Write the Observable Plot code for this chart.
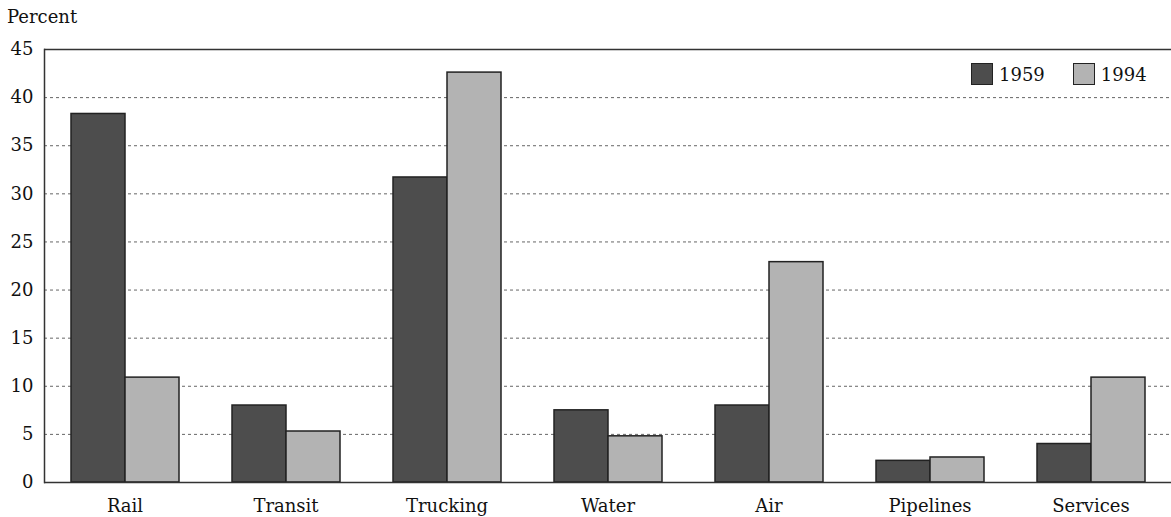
<!DOCTYPE html>
<html>
<head>
<meta charset="utf-8">
<script src="https://cdn.jsdelivr.net/npm/d3@7"></script>
<script src="https://cdn.jsdelivr.net/npm/@observablehq/plot@0.6"></script>
<style>
  body { margin: 0; background: #fff; }
  #wrap { position: relative; width: 1171px; height: 517px; font-family: "DejaVu Serif", serif; color: #111; }
  #ylabel { position: absolute; left: 7px; top: 6px; font-size: 18px; }
  #legend { position: absolute; left: 971px; top: 63px; display: flex; align-items: center; font-size: 18px; }
  .sw { width: 20px; height: 20px; border: 1.5px solid #222; margin-right: 6px; }
  .item { display: flex; align-items: center; margin-right: 28px; }
</style>
</head>
<body>
<div id="wrap">
  <div id="ylabel">Percent</div>
  <div id="legend"></div>
</div>
<script>
const categories = ["Rail", "Transit", "Trucking", "Water", "Air", "Pipelines", "Services"];
const years = ["1959", "1994"];
const values1959 = [38.3, 8.0, 31.7, 7.5, 8.0, 2.25, 4.0];
const values1994 = [10.9, 5.3, 42.6, 4.8, 22.9, 2.6, 10.9];
const yTicks = [0, 5, 10, 15, 20, 25, 30, 35, 40, 45];
const gridTicks = [5, 10, 15, 20, 25, 30, 35, 40];
const colors = ["#4d4d4d", "#b3b3b3"];

const data = [];
categories.forEach((c, i) => {
  data.push({category: c, year: years[0], value: values1959[i]});
  data.push({category: c, year: years[1], value: values1994[i]});
});

const chart = Plot.plot({
  width: 1171,
  height: 517,
  marginLeft: 44,
  marginRight: 0,
  marginTop: 49,
  marginBottom: 35,
  style: {fontFamily: "DejaVu Serif, serif", fontSize: "18px", color: "#111", background: "transparent", overflow: "visible"},
  fx: {domain: categories, padding: 0, label: null},
  x: {domain: years, paddingInner: 0, paddingOuter: 0.49, axis: null},
  y: {domain: [0, 45], label: null},
  color: {domain: years, range: colors},
  marks: [
    Plot.gridY(gridTicks, {stroke: "#666", strokeOpacity: 1, strokeDasharray: "3,3", strokeWidth: 1}),
    Plot.barY(data, {fx: "category", x: "year", y: "value", fill: "year", stroke: "#222", strokeWidth: 1.5}),
    Plot.ruleY([0], {stroke: "#333", strokeWidth: 1.5}),
    Plot.ruleY([45], {stroke: "#333", strokeWidth: 1.5}),
    Plot.frame({anchor: "left", facetAnchor: "left", stroke: "#333", strokeWidth: 1.5}),
    Plot.axisY(yTicks, {tickSize: 0, tickPadding: 11, label: null, fontSize: 18}),
    Plot.axisFx({anchor: "bottom", tickSize: 0, tickPadding: 17, label: null, fontSize: 18})
  ]
});
document.getElementById("wrap").prepend(chart);
chart.style.position = "absolute";
chart.style.left = "0";
chart.style.top = "0";

const legend = document.getElementById("legend");
years.forEach((y, i) => {
  const item = document.createElement("div");
  item.className = "item";
  const sw = document.createElement("div");
  sw.className = "sw";
  sw.style.background = colors[i];
  const t = document.createElement("span");
  t.textContent = y;
  item.append(sw, t);
  legend.append(item);
});
</script>
</body>
</html>
